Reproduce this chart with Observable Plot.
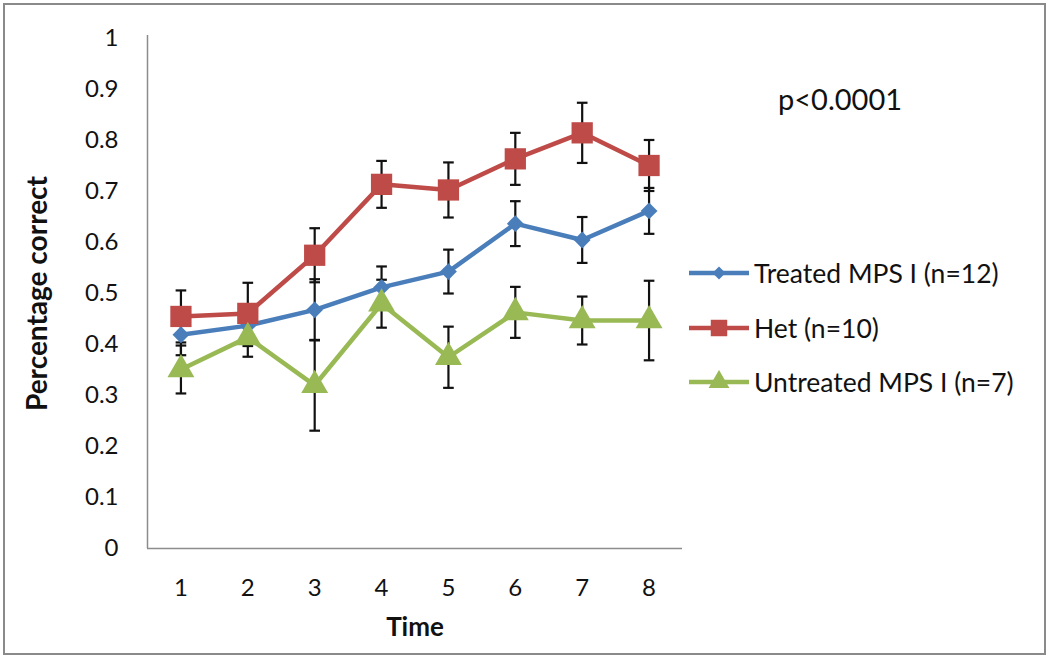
<!DOCTYPE html>
<html>
<head>
<meta charset="utf-8">
<script src="https://cdn.jsdelivr.net/npm/d3@7"></script>
<script src="https://cdn.jsdelivr.net/npm/@observablehq/plot@0.6"></script>
<style>
  html, body { margin: 0; padding: 0; background: #fff; }
  #wrap { position: relative; width: 1050px; height: 657px; overflow: hidden; font-family: Lato, "Open Sans", sans-serif; }
  #border { position: absolute; left: 3px; top: 3px; width: 1039px; height: 648px; border: 2px solid #8a8a8a; box-sizing: content-box; pointer-events: none; }
  #ptext { position: absolute; left: 778px; top: 84px; font-size: 29px; line-height: 1; color: #111; }
  #legend { position: absolute; left: 689px; top: 246px; }
  .item { display: flex; align-items: center; height: 54.5px; font-size: 26.5px; color: #111; white-space: nowrap; }
  .item svg { margin-right: 5px; }
</style>
</head>
<body>
<div id="wrap">
  <div id="chart"></div>
  <div id="ptext">p&lt;0.0001</div>
  <div id="legend"></div>
  <div id="border"></div>
</div>
<script>
const times = [1, 2, 3, 4, 5, 6, 7, 8];
const seriesNames = ["Treated MPS I (n=12)", "Het (n=10)", "Untreated MPS I (n=7)"];
const treatedMean = [0.419, 0.437, 0.468, 0.512, 0.543, 0.637, 0.605, 0.662];
const treatedErr  = [0.040, 0.040, 0.060, 0.041, 0.043, 0.044, 0.045, 0.045];
const hetMean     = [0.455, 0.461, 0.575, 0.714, 0.703, 0.764, 0.815, 0.751];
const hetErr      = [0.051, 0.060, 0.053, 0.046, 0.054, 0.051, 0.059, 0.050];
const untreatedMean = [0.351, 0.414, 0.320, 0.480, 0.375, 0.463, 0.447, 0.447];
const untreatedErr  = [0.047, 0.038, 0.089, 0.047, 0.060, 0.050, 0.047, 0.078];
const yTicks = [0, 0.1, 0.2, 0.3, 0.4, 0.5, 0.6, 0.7, 0.8, 0.9, 1];

const colors = ["#4a7ebb", "#be4b48", "#98b954"];
const symbols = ["diamond2", "square", "triangle"];
const radii = [7.6, 12, 10];
const d3Symbols = {diamond2: d3.symbolDiamond2, square: d3.symbolSquare, triangle: d3.symbolTriangle};

const means = [treatedMean, hetMean, untreatedMean];
const errs = [treatedErr, hetErr, untreatedErr];
const rows = [];
seriesNames.forEach((s, i) => {
  times.forEach((t, j) => rows.push({series: s, idx: i, time: t, mean: means[i][j], err: errs[i][j]}));
});

const capSymbol = {
  draw(ctx, size) {
    const w = Math.sqrt(size);
    ctx.moveTo(-w / 2, 0);
    ctx.lineTo(w / 2, 0);
  }
};

const marks = [
  Plot.ruleX([0.5], {y1: 0, y2: 1.006, stroke: "#8c8c8c", strokeWidth: 1.5}),
  Plot.ruleY([0], {x1: 0.5, x2: 8.5, stroke: "#8c8c8c", strokeWidth: 1.5}),
  Plot.axisY({ticks: yTicks, tickSize: 0, tickPadding: 29, tickFormat: d => String(d), fontSize: 24,
    label: "Percentage correct", labelAnchor: "center", labelOffset: 120, labelArrow: "none"}),
  Plot.axisX({ticks: times, tickSize: 0, tickPadding: 30, tickFormat: d => String(d), fontSize: 24,
    label: "Time", labelAnchor: "center", labelOffset: 87, labelArrow: "none"})
];
seriesNames.forEach((s, i) => {
  const data = rows.filter(d => d.idx === i);
  marks.push(
    Plot.ruleX(data, {x: "time", y1: d => d.mean - d.err, y2: d => d.mean + d.err, stroke: "#111", strokeWidth: 2.2}),
    Plot.dot(data, {x: "time", y: d => d.mean + d.err, symbol: capSymbol, r: 6, stroke: "#111", strokeWidth: 2.2}),
    Plot.dot(data, {x: "time", y: d => d.mean - d.err, symbol: capSymbol, r: 6, stroke: "#111", strokeWidth: 2.2})
  );
});
seriesNames.forEach((s, i) => {
  const data = rows.filter(d => d.idx === i);
  marks.push(
    Plot.line(data, {x: "time", y: "mean", stroke: colors[i], strokeWidth: 4.5}),
    Plot.dot(data, {x: "time", y: "mean", symbol: symbols[i], r: radii[i], fill: colors[i], stroke: "none"})
  );
});

const chart = Plot.plot({
  width: 1050,
  height: 657,
  marginLeft: 147,
  marginRight: 368,
  marginTop: 38,
  marginBottom: 109,
  style: {fontFamily: "Lato, 'Open Sans', sans-serif", fontSize: "24px", color: "#111", background: "white", overflow: "visible"},
  x: {domain: [0.5, 8.5], axis: null},
  y: {domain: [0, 1], axis: null},
  marks
});
document.getElementById("chart").appendChild(chart);
chart.querySelectorAll("text").forEach(t => {
  const txt = t.textContent;
  if (/^[\d.]+$/.test(txt)) {
    t.setAttribute("font-size", "24");
    t.style.setProperty("font-size", "24px", "important");
  } else if (txt === "Percentage correct" || txt === "Time") {
    t.style.setProperty("font-weight", "bold", "important");
    t.style.setProperty("font-size", txt === "Time" ? "26px" : "28px", "important");
  }
});

const legend = document.getElementById("legend");
seriesNames.forEach((s, i) => {
  const item = document.createElement("div");
  item.className = "item";
  const sym = d3.symbol(d3Symbols[symbols[i]], Math.PI * radii[i] * radii[i] * 0.6)();
  item.innerHTML = `<svg width="60" height="24"><line x1="0" x2="60" y1="12" y2="12" stroke="${colors[i]}" stroke-width="4.5"/><path transform="translate(30,12)" d="${sym}" fill="${colors[i]}"/></svg><span>${s}</span>`;
  legend.appendChild(item);
});
</script>
</body>
</html>
